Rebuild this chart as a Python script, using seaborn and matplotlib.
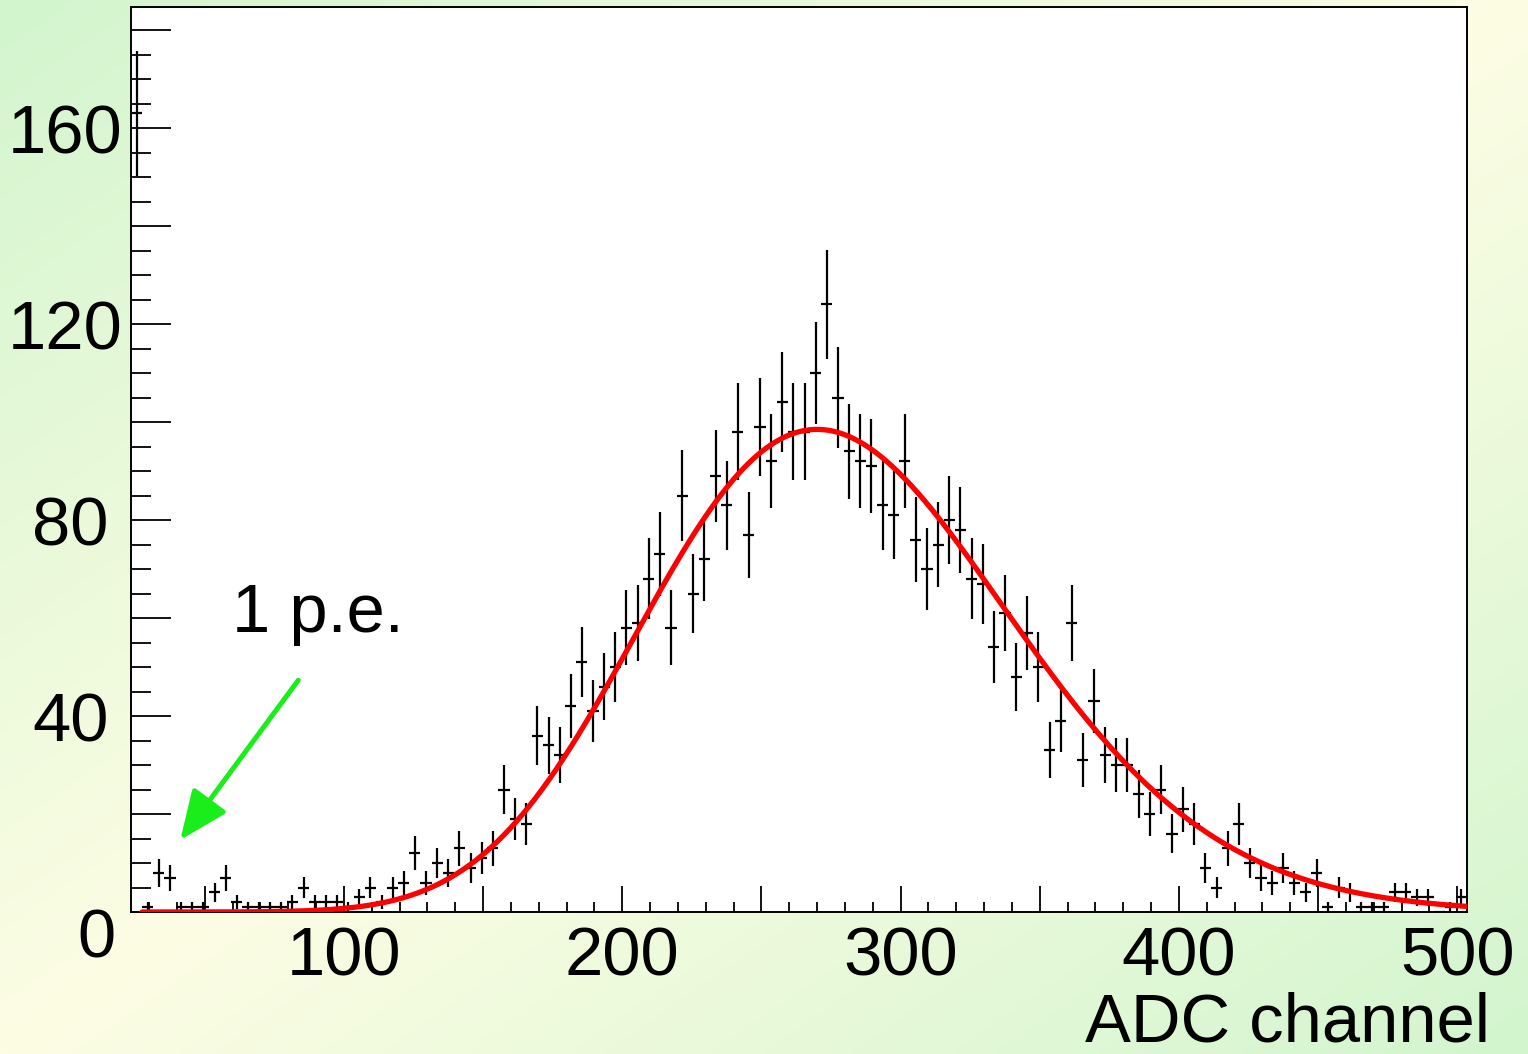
import numpy as np
import pandas as pd
import matplotlib
matplotlib.use("Agg")
import matplotlib.pyplot as plt
import matplotlib.patches as mpatches
import matplotlib.transforms as mtransforms
from matplotlib.ticker import MultipleLocator, FuncFormatter
import seaborn as sns

# ---- histogram of ADC channels (bin width 4) ----
BIN_LO = 23.5
BIN_WIDTH = 4.0
counts = [163, 1, 8, 7, 1, 1, 1, 4, 7, 2,
          1, 1, 1, 1, 2, 5, 2, 2, 2, 1,
          3, 5, 2, 5, 6, 12, 6, 10, 8, 13,
          9, 11, 13, 25, 19, 18, 36, 34, 32, 42,
          51, 41, 46, 50, 58, 59, 68, 73, 58, 85,
          65, 72, 89, 83, 98, 77, 99, 92, 104, 98,
          98, 110, 124, 105, 94, 92, 91, 83, 81, 92,
          76, 70, 75, 80, 78, 68, 67, 54, 61, 48,
          57, 50, 33, 39, 59, 31, 43, 32, 30, 30,
          24, 20, 25, 16, 21, 18, 9, 5, 13, 18,
          10, 7, 6, 9, 6, 4, 8, 1, 5, 4,
          1, 1, 1, 4, 4, 3, 3, 0, 1, 3]

# ---- fitted single-photoelectron-sum peak (gamma-like shape) ----
fit_amp = 98.5
fit_peak = 270.0
fit_origin = -100.0
fit_shape = 31.4
fit_range = (27.5, 503.5)

# ---- axes ----
x_range = (23.5, 503.5)
y_range = (0.0, 184.7)
xtick_labels = [100, 200, 300, 400, 500]
ytick_labels = [0, 40, 80, 120, 160]
x_title = "ADC channel"
note_text = "1 p.e."
note_xy = (59.8, 57.1)
arrow_tail = (83.6, 47.3)
arrow_head = (41.2, 14.7)

GREEN = "#1AEE1A"
RED = "#FF0000"

sns.set_theme(style="ticks")
plt.rcParams["font.family"] = ["Liberation Sans", "DejaVu Sans"]
plt.rcParams["text.color"] = "black"
plt.rcParams["axes.labelcolor"] = "black"
FS = 49.5

n_bins = len(counts)
centers = BIN_LO + BIN_WIDTH * (np.arange(n_bins) + 0.5)
hist = pd.DataFrame({"adc": centers, "entries": np.array(counts, dtype=float)})
hist["err"] = np.sqrt(hist["entries"])


def fit_model(x):
    t = (x - fit_origin) / (fit_peak - fit_origin)
    return fit_amp * t ** fit_shape * np.exp(fit_shape * (1.0 - t))


xf = np.linspace(fit_range[0], fit_range[1], 600)
fit = pd.DataFrame({"adc": xf, "model": fit_model(xf)})

W, H = 1528, 1054
fig = plt.figure(figsize=(W / 100, H / 100), dpi=100)

# slide-style diagonal gradient behind everything
bg = fig.add_axes([0, 0, 1, 1], zorder=-5)
gx, gy = np.meshgrid(np.linspace(0, 1, 300), np.linspace(1, 0, 210))
d = np.clip(np.abs(gx - gy), 0, 1)[..., None]
yellow = np.array([253, 253, 228]) / 255.0
green = np.array([210, 245, 206]) / 255.0
bg.imshow(yellow * (1 - d) + green * d, aspect="auto", extent=[0, 1, 0, 1],
          interpolation="bilinear")
bg.set_axis_off()

ax = fig.add_axes([131 / W, 1 - 912 / H, 1336 / W, 905 / H], zorder=1)
ax.set_facecolor("white")

ax.errorbar(hist["adc"], hist["entries"], xerr=BIN_WIDTH / 2, yerr=hist["err"],
            fmt="none", ecolor="black", elinewidth=1.6, capsize=0, zorder=2)
sns.lineplot(data=fit, x="adc", y="model", ax=ax, color=RED, linewidth=3.8,
             estimator=None, sort=False, zorder=3)

ax.set_xlim(*x_range)
ax.set_ylim(*y_range)

# ticks: inside, left/bottom only
ax.xaxis.set_major_locator(MultipleLocator(50))
ax.xaxis.set_minor_locator(MultipleLocator(10))
ax.yaxis.set_major_locator(MultipleLocator(20))
ax.yaxis.set_minor_locator(MultipleLocator(5))
ax.xaxis.set_major_formatter(FuncFormatter(
    lambda v, p: f"{int(round(v))}" if int(round(v)) in xtick_labels else ""))
ax.yaxis.set_major_formatter(FuncFormatter(
    lambda v, p: f"{int(round(v))}" if int(round(v)) in ytick_labels else ""))
ax.tick_params(axis="x", which="major", direction="in", length=18.5, width=1.3,
               labelsize=FS, pad=10, top=False, colors="black")
ax.tick_params(axis="x", which="minor", direction="in", length=7.2, width=1.3,
               top=False, colors="black")
ax.tick_params(axis="y", which="major", direction="in", length=28.8, width=1.3,
               labelsize=FS, pad=6.0, right=False, colors="black")
ax.tick_params(axis="y", which="minor", direction="in", length=14.4, width=1.3,
               right=False, colors="black")
for s in ax.spines.values():
    s.set_color("black")
    s.set_linewidth(1.4)

ax.set_ylabel("")
ax.set_xlabel(x_title, fontsize=FS, ha="right", va="baseline", color="black")
ax.xaxis.set_label_coords((1490 - 131) / 1336, (912 - 1041) / 905)

ax.text(note_xy[0], note_xy[1], note_text, fontsize=FS, ha="left", va="baseline",
        color="black", zorder=4)
arrow = mpatches.FancyArrowPatch(
    arrow_tail, arrow_head,
    arrowstyle=mpatches.ArrowStyle("-|>", head_length=1.5, head_width=0.64),
    mutation_scale=20, color=GREEN, linewidth=3.6, shrinkA=0, shrinkB=0, zorder=4)
ax.add_patch(arrow)

# nudge a few y labels the way the original layout places them (pixels)
fig.canvas.draw()
nudges = {"0": (-7, -20), "40": (-14, 0), "80": (-14, 0)}
for tick in ax.yaxis.get_major_ticks():
    lab = tick.label1
    if lab.get_text() in nudges:
        dx, dy = nudges[lab.get_text()]
        lab.set_transform(lab.get_transform() +
                          mtransforms.ScaledTranslation(dx / 100, dy / 100,
                                                        fig.dpi_scale_trans))

fig.savefig("out.png", dpi=100)
